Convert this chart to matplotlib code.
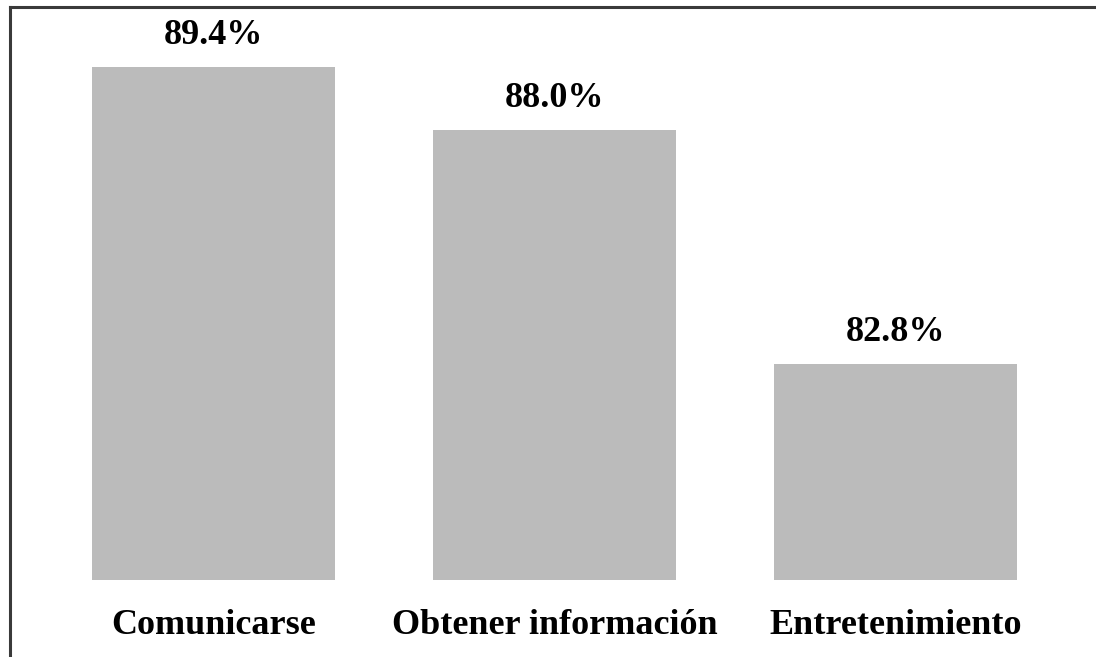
import matplotlib.pyplot as plt
from matplotlib.lines import Line2D

categories = ['Comunicarse', 'Obtener información', 'Entretenimiento']
values = [89.4, 88.0, 82.8]
value_labels = ['89.4%', '88.0%', '82.8%']

plt.rcParams['font.family'] = ['Liberation Serif', 'DejaVu Serif']

fig = plt.figure(figsize=(10.96, 6.57), dpi=100)
ax = fig.add_axes([0, 0, 1, 1])
ax.axis('off')

x = range(len(categories))
bottom = 78.0
bars = ax.bar(x, [v - bottom for v in values], bottom=bottom, width=0.713,
              color='#bbbbbb', edgecolor='none')

for xi, v, lab, cat in zip(x, values, value_labels, categories):
    ax.annotate(lab, (xi, v), xytext=(0, 23), textcoords='offset points',
                ha='center', va='center', fontsize=26, fontweight='bold')
    ax.annotate(cat, (xi, bottom), xytext=(0, -33), textcoords='offset points',
                ha='center', va='center', fontsize=26, fontweight='bold')

ax.set_xlim(-0.626, 2.588)
ax.set_ylim(76.289, 90.889)

# frame lines (left and top only, rest is cropped off)
fig.add_artist(Line2D([9.5 / 1096, 9.5 / 1096], [0, 1 - 7 / 657],
                      transform=fig.transFigure, color='#3a3a3a', lw=2.2))
fig.add_artist(Line2D([9.5 / 1096, 1], [1 - 7 / 657, 1 - 7 / 657],
                      transform=fig.transFigure, color='#3a3a3a', lw=2.2))

plt.savefig('out.png', dpi=100)
